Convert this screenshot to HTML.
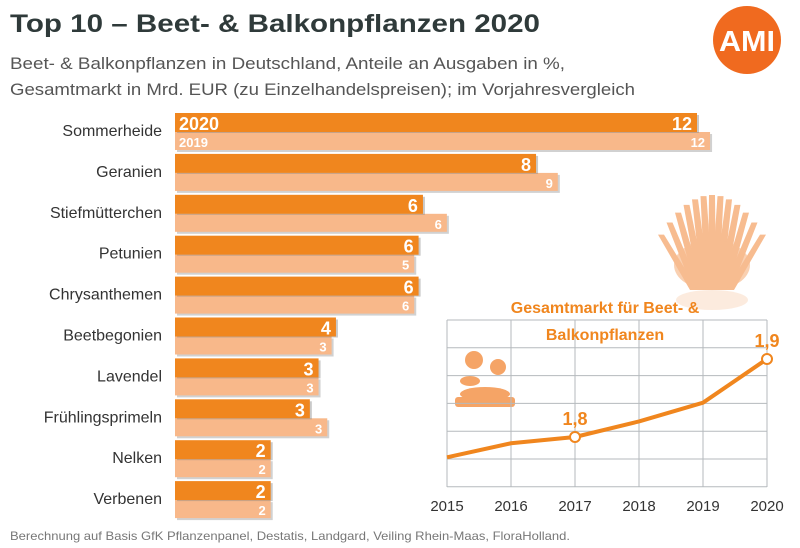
<!DOCTYPE html>
<html><head><meta charset="utf-8"><style>
html,body{margin:0;padding:0;background:#fff;}
svg{display:block;font-family:"Liberation Sans",sans-serif;}
</style></head><body>
<svg id="c" width="800" height="548" viewBox="0 0 800 548">
<text x="10" y="32" font-size="25" font-weight="bold" fill="#2f3a3a" textLength="530" lengthAdjust="spacingAndGlyphs">Top 10 – Beet- &amp; Balkonpflanzen 2020</text>
<text x="10" y="69" font-size="17" fill="#555" textLength="555" lengthAdjust="spacingAndGlyphs">Beet- &amp; Balkonpflanzen in Deutschland, Anteile an Ausgaben in %,</text>
<text x="10" y="95" font-size="17" fill="#555" textLength="625" lengthAdjust="spacingAndGlyphs">Gesamtmarkt in Mrd. EUR (zu Einzelhandelspreisen); im Vorjahresvergleich</text>
<g><circle cx="747" cy="40" r="34" fill="#f06a1f"/><text x="747" y="51" font-size="29" font-weight="bold" fill="#fff" text-anchor="middle" textLength="56" lengthAdjust="spacingAndGlyphs">AMI</text></g>
<g id="bars"></g>
<g id="line"></g>
<text x="10" y="540" font-size="12" fill="#777" textLength="560" lengthAdjust="spacingAndGlyphs">Berechnung auf Basis GfK Pflanzenpanel, Destatis, Landgard, Veiling Rhein-Maas, FloraHolland.</text>
</svg>
<script>
const categories=["Sommerheide","Geranien","Stiefmütterchen","Petunien","Chrysanthemen","Beetbegonien","Lavendel","Frühlingsprimeln","Nelken","Verbenen"];
const values2020=[12,8.3,5.7,5.6,5.6,3.7,3.3,3.1,2.2,2.2];
const values2019=[12.3,8.8,6.25,5.5,5.5,3.6,3.3,3.5,2.2,2.2];
const labels2020=["12","8","6","6","6","4","3","3","2","2"];
const labels2019=["12","9","6","5","6","3","3","3","2","2"];
const years=["2015","2016","2017","2018","2019","2020"];
const market=[1.774,1.792,1.8,1.82,1.844,1.9];
const marketLabels=[null,null,"1,8",null,null,"1,9"];
const NS="http://www.w3.org/2000/svg";
function mk(t,a,p){const e=document.createElementNS(NS,t);for(const k in a)e.setAttribute(k,a[k]);p.appendChild(e);return e;}
const x0=175,bx=v=>v*43.5,rowY=i=>113+i*40.9;
const bars=document.getElementById('bars');
categories.forEach((c,i)=>{
 const y=rowY(i);
 const t=mk('text',{x:162,y:y+23,'font-size':16,fill:'#333','text-anchor':'end'},bars);t.textContent=c;
 
 
 const w19=bx(values2019[i]),w20=bx(values2020[i]);
 mk('rect',{x:x0+2,y:y+21,width:w19,height:18,fill:'#999',opacity:0.45},bars);
 const b19=mk('rect',{x:x0,y:y+19,width:w19,height:18,fill:'#f8b88a'},bars);
 
 
 mk('rect',{x:x0+2,y:y+2,width:w20,height:18,fill:'#888',opacity:0.45},bars);
 const b20=mk('rect',{x:x0,y:y,width:w20,height:19,fill:'#f0861e'},bars);
 
 
 const l20=mk('text',{x:x0+w20-5,y:y+17,'font-size':18,'font-weight':'bold',fill:'#fff','text-anchor':'end'},bars);l20.textContent=labels2020[i];
 
 
 const l19=mk('text',{x:x0+w19-5,y:y+34,'font-size':13,'font-weight':'bold',fill:'#fff','text-anchor':'end'},bars);l19.textContent=labels2019[i];
 
 
 if(i===0){const a=mk('text',{x:x0+4,y:y+17,'font-size':18,'font-weight':'bold',fill:'#fff'},bars);a.textContent='2020';
 
 const b=mk('text',{x:x0+4,y:y+34,'font-size':13,'font-weight':'bold',fill:'#fff'},bars);b.textContent='2019';
 }
});
const lg=document.getElementById('line');
const gx=i=>447+i*64,gy=v=>437-(v-1.8)*780;
// decorative plant: spiky leaves
const pl=mk('g',{fill:'#f7b585',opacity:0.9},lg);


for(let k=0;k<13;k++){const bxp=712+(k-6)*3,tx=712+(k-6)*8.5,ty=195+Math.abs(6-k)*Math.abs(6-k)*1.1;
 mk('polygon',{points:(bxp-4)+',290 '+(bxp+4)+',290 '+(tx+3)+','+ty+' '+(tx-3)+','+ty},pl);}
mk('ellipse',{cx:712,cy:265,rx:38,ry:25,opacity:0.7},pl);
mk('ellipse',{cx:712,cy:300,rx:36,ry:10,fill:'#fbe0cc',opacity:0.7},pl);
const fl=mk('g',{fill:'#f5a466'},lg);


mk('circle',{cx:474,cy:360,r:9},fl);mk('circle',{cx:498,cy:367,r:8},fl);
mk('ellipse',{cx:470,cy:381,rx:10,ry:5},fl);
mk('rect',{x:455,y:397,width:60,height:10,rx:3},fl);mk('ellipse',{cx:485,cy:394,rx:25,ry:7},fl);
for(let r=0;r<=6;r++)mk('line',{x1:447,x2:767,y1:320+r*27.8,y2:320+r*27.8,stroke:'#b5babd','stroke-width':1},lg);
years.forEach((y,i)=>{mk('line',{x1:gx(i),x2:gx(i),y1:320,y2:487,stroke:'#b5babd','stroke-width':1},lg);
 const t=mk('text',{x:gx(i),y:511,'font-size':15,fill:'#333','text-anchor':'middle'},lg);t.textContent=y;
 });
const tt=mk('text',{x:605,y:313,'font-size':16,'font-weight':'bold',fill:'#f0861e','text-anchor':'middle'},lg);tt.textContent='Gesamtmarkt für Beet- &';

const t2=mk('text',{x:605,y:340,'font-size':16,'font-weight':'bold',fill:'#f0861e','text-anchor':'middle'},lg);t2.textContent='Balkonpflanzen';

const ln=mk('polyline',{points:market.map((v,i)=>gx(i)+','+gy(v)).join(' '),fill:'none',stroke:'#f0861e','stroke-width':4,'stroke-linejoin':'round'},lg);

market.forEach((v,i)=>{if(!marketLabels[i])return;
 const c=mk('circle',{cx:gx(i),cy:gy(v),r:5,fill:'#fff',stroke:'#f0861e','stroke-width':2},lg);
 
 const t=mk('text',{x:gx(i),y:gy(v)-12,'font-size':18,'font-weight':'bold',fill:'#f0861e','text-anchor':'middle'},lg);t.textContent=marketLabels[i];
 });
</script>
</body></html>
